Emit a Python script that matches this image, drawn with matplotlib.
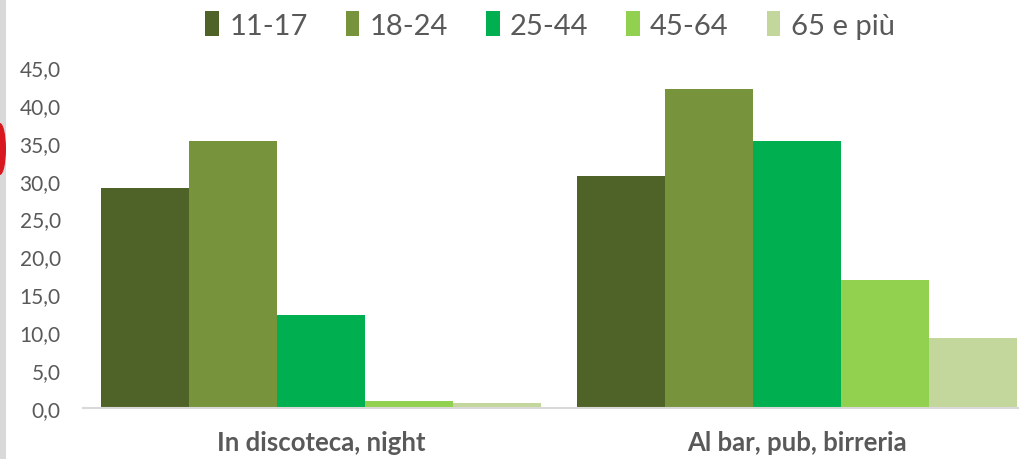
import matplotlib
matplotlib.use("Agg")
import matplotlib.pyplot as plt
from matplotlib.patches import Rectangle, Ellipse
import numpy as np

categories = ["In discoteca, night", "Al bar, pub, birreria"]
series_labels = ["11-17", "18-24", "25-44", "45-64", "65 e più"]
values_11_17 = [29.0, 30.6]
values_18_24 = [35.2, 42.1]
values_25_44 = [12.3, 35.2]
values_45_64 = [0.9, 16.9]
values_65_piu = [0.6, 9.2]
yticks = [0, 5, 10, 15, 20, 25, 30, 35, 40, 45]

series = [values_11_17, values_18_24, values_25_44, values_45_64, values_65_piu]
colors = ["#4f6228", "#77933c", "#00b050", "#92d050", "#c3d69b"]
text_color = "#595959"

plt.rcParams['font.family'] = ['Lato', 'DejaVu Sans']

W, H = 1020, 460
fig = plt.figure(figsize=(W / 100, H / 100), dpi=100)

ax_left = 83 / W
ax_w = 2 * 476 / W
ax_bottom = (H - 409) / H
ax_h = (409 - 68) / H
ax = fig.add_axes([ax_left, ax_bottom, ax_w, ax_h])

bw = 88 / 476
x = np.arange(len(categories))
n = len(series)
handles = []
for i, (vals, c) in enumerate(zip(series, colors)):
    off = (i - (n - 1) / 2) * bw
    b = ax.bar(x + off, vals, width=bw, color=c, edgecolor='none', linewidth=0, label=series_labels[i])
    handles.append(b)

ax.set_xlim(-0.5, 1.5)
ax.set_ylim(0, 45)
ax.set_yticks(yticks)
ax.set_yticklabels([f"{v:.1f}".replace('.', ',') for v in yticks], fontsize=15, color=text_color)
ax.set_xticks(x)
ax.set_xticklabels(categories, fontsize=18.5, fontweight='bold', color=text_color)
ax.tick_params(axis='y', length=0, pad=16)
ax.tick_params(axis='x', length=0, pad=16)
for s in ['top', 'right', 'left']:
    ax.spines[s].set_visible(False)
ax.spines['bottom'].set_color('#d9d9d9')
ax.spines['bottom'].set_linewidth(1.5)

fig.legend(handles=handles, labels=series_labels, loc='center',
           bbox_to_anchor=(550 / W, (H - 26) / H), ncol=5, frameon=False,
           fontsize=21, labelcolor=text_color, handlelength=0.47, handleheight=0.94,
           handletextpad=0.35, columnspacing=1.3, borderpad=0)

# left gray border strip and red marker
fig.patches.append(Rectangle((0, 0), 6 / W, 1, transform=fig.transFigure,
                             facecolor='#d9d9d9', edgecolor='none', zorder=0))
fig.patches.append(Ellipse((0, (H - 150) / H), 12 / W, 52 / H, transform=fig.transFigure,
                           facecolor='#d7191f', edgecolor='none', zorder=1))

fig.savefig("out.png", dpi=100)
